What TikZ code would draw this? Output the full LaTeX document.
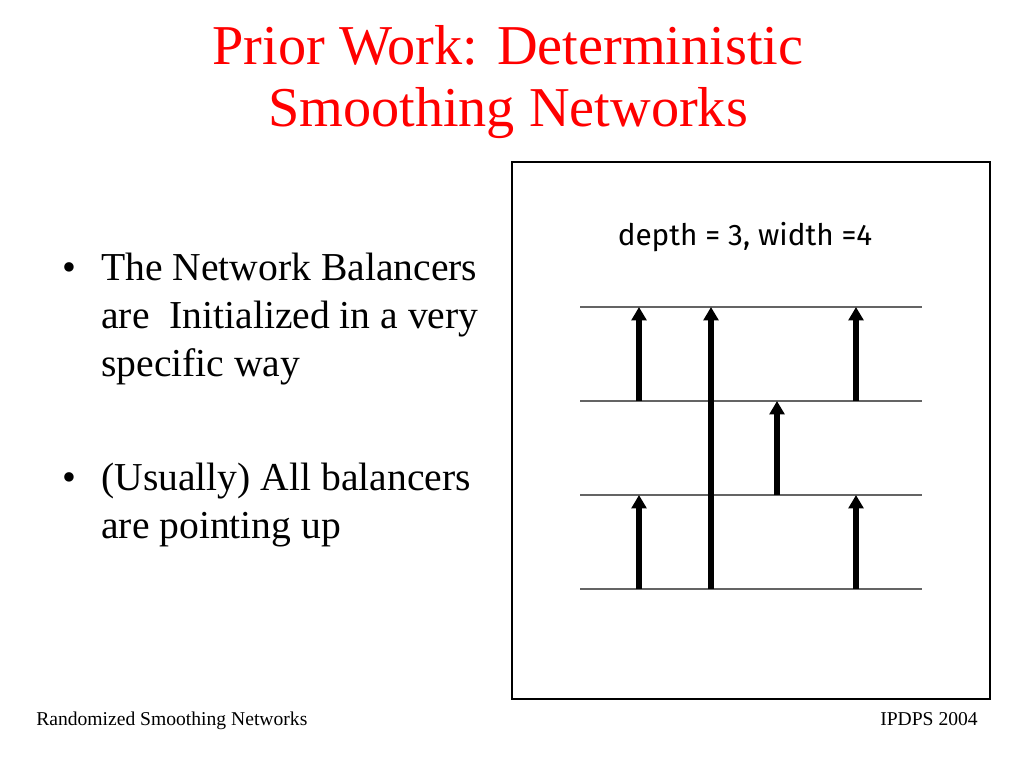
\documentclass[tikz,border=0pt]{standalone}
\usepackage{fontspec}
\setmainfont{Liberation Serif}
\newfontfamily\labelfont{Fira Sans}
\usetikzlibrary{arrows.meta}
\definecolor{titlered}{RGB}{255,0,0}
\definecolor{wiregray}{RGB}{100,100,100}
\begin{document}
\begin{tikzpicture}[x=0.75pt,y=-0.75pt,
  titletext/.style={anchor=base,inner sep=0pt,text=titlered,font=\fontsize{42.2}{46.5}\selectfont},
  bodytext/.style={anchor=base west,inner sep=0pt,font=\fontsize{29.7}{36}\selectfont},
  foot/.style={inner sep=0pt,font=\fontsize{14.7}{17}\selectfont},
  wire/.style={draw=wiregray,line width=1.1pt},
  balancer/.style={draw=black,line width=4pt,-{Triangle[width=11pt,length=10pt]},shorten >=0pt}
]
\useasboundingbox (0,0) rectangle (1024,768);
\fill[white] (0,0) rectangle (1024,768);
% title
\node[titletext] (t1) at (508,64) {Prior Work: Deterministic};
\node[titletext] (t2) at (508,126) {Smoothing Networks};
% bullets
\node[bodytext,anchor=base] (b1) at (69,280) {•};
\node[bodytext] (l1) at (101,280) {The Network Balancers};
\node[bodytext] (l2) at (101,328) {are\ \ Initialized in a very};
\node[bodytext] (l3) at (101,376) {specific way};
\node[bodytext,anchor=base] (b2) at (69,490) {•};
\node[bodytext] (l4) at (101,490) {(Usually) All balancers};
\node[bodytext] (l5) at (101,538) {are pointing up};
% footer
\node[foot,anchor=base west] (f1) at (36,725) {Randomized Smoothing Networks};
\node[foot,anchor=base east] (f2) at (978,725) {IPDPS 2004};
% frame
\draw[line width=2pt] (512,162) rectangle (990,699);
\node[inner sep=0pt,anchor=base,font=\labelfont\fontsize{22.3}{26}\selectfont] (lab) at (745,245) {depth = 3, width =4};
% wires
\foreach \i/\y in {1/307,2/401,3/495,4/589}{
  \coordinate (wl\i) at (580,\y);
  \coordinate (wr\i) at (922,\y);
  \draw[wire] (wl\i) -- (wr\i);
}
% balancer endpoints
\coordinate (a1s) at (639,401); \coordinate (a1e) at (639,307);
\coordinate (a2s) at (711,589); \coordinate (a2e) at (711,307);
\coordinate (a3s) at (856,401); \coordinate (a3e) at (856,307);
\coordinate (a4s) at (777,495); \coordinate (a4e) at (777,401);
\coordinate (a5s) at (639,589); \coordinate (a5e) at (639,495);
\coordinate (a6s) at (856,589); \coordinate (a6e) at (856,495);
\foreach \k in {1,...,6}{ \draw[balancer] (a\k s) -- (a\k e); }
\end{tikzpicture}
\end{document}
